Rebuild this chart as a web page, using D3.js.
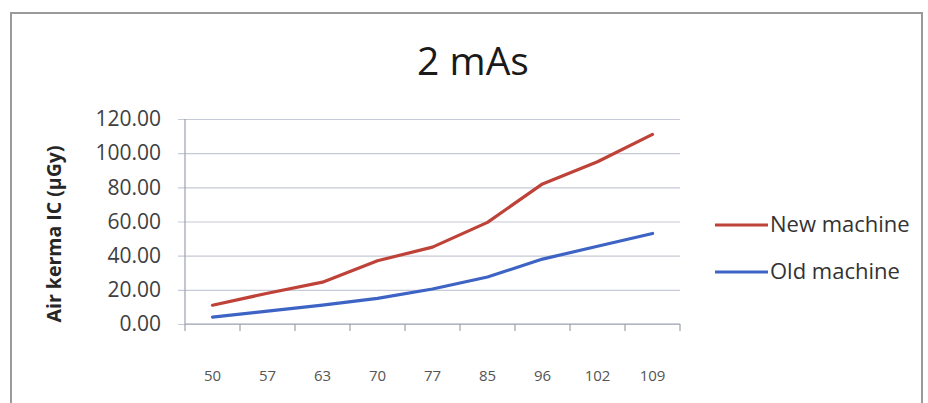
<!DOCTYPE html>
<html>
<head>
<meta charset="utf-8">
<script src="https://cdn.jsdelivr.net/npm/d3@7"></script>
<style>
  html, body { margin: 0; padding: 0; background: #fff; }
  svg { display: block; }
</style>
</head>
<body>
<svg id="chart" width="928" height="403"></svg>
<script>
// Tube voltage categories (kV) and measured air kerma at 2 mAs
const categories = ["50", "57", "63", "70", "77", "85", "96", "102", "109"];
const newMachine = [11, 18, 24.5, 37, 45, 59.5, 82, 95, 111];
const oldMachine = [4, 7.5, 11, 15, 20.5, 27.5, 38, 45.5, 53];
const yTicks = [0, 20, 40, 60, 80, 100, 120];
const seriesNames = ["New machine", "Old machine"];
const seriesColors = ["#bf4238", "#3d63c4"];

const svg = d3.select("#chart");
const font = "'Open Sans', 'Noto Sans', sans-serif";

// Outer chart frame
svg.append("path")
  .attr("d", "M11,403 V13 H922 V403")
  .attr("fill", "none")
  .attr("stroke", "#9a9a9a")
  .attr("stroke-width", 2);

// Title
svg.append("text")
  .attr("x", 473).attr("y", 75)
  .attr("text-anchor", "middle")
  .attr("font-family", font)
  .attr("font-size", 39)
  .attr("fill", "#1a1a1a")
  .text("2 mAs");

const plot = { left: 185, right: 680, top: 119, bottom: 324 };

const x = d3.scaleBand().domain(categories).range([plot.left, plot.right]);
const y = d3.scaleLinear().domain([0, 120]).range([plot.bottom, plot.top]);

// Horizontal gridlines with small outward ticks on the value axis
const yAxis = d3.axisLeft(y)
  .tickValues(yTicks)
  .tickSize(-(plot.right - plot.left))
  .tickFormat(d => d.toFixed(2));
const gy = svg.append("g")
  .attr("transform", `translate(${plot.left},0)`)
  .call(yAxis);
gy.select(".domain").remove();
gy.selectAll(".tick line")
  .attr("x1", -7)
  .attr("stroke", "#c6cad6")
  .attr("stroke-width", 1.2);
gy.selectAll(".tick text")
  .attr("x", -24)
  .attr("font-family", font)
  .attr("font-size", 21)
  .attr("fill", "#404040");

// Value axis line
svg.append("line")
  .attr("x1", plot.left).attr("x2", plot.left)
  .attr("y1", plot.top).attr("y2", plot.bottom)
  .attr("stroke", "#9da1ad").attr("stroke-width", 1.2);

// Category axis: baseline, boundary ticks and labels
const gx = svg.append("g")
  .attr("transform", `translate(0,${plot.bottom})`)
  .call(d3.axisBottom(x).tickSize(0).tickPadding(0));
gx.select(".domain")
  .attr("d", `M${plot.left},0H${plot.right}`)
  .attr("stroke", "#9da1ad").attr("stroke-width", 1.2);
gx.selectAll(".tick text")
  .attr("y", 46)
  .attr("font-family", font)
  .attr("font-size", 15)
  .attr("fill", "#555");
const bounds = categories.map(c => x(c)).concat([plot.right]);
gx.selectAll(".bound")
  .data(bounds)
  .enter().append("line")
  .attr("class", "bound")
  .attr("x1", d => d).attr("x2", d => d)
  .attr("y1", 0).attr("y2", 7)
  .attr("stroke", "#9da1ad").attr("stroke-width", 1.2);

// Value axis title
svg.append("text")
  .attr("transform", "translate(61,234) rotate(-90)")
  .attr("text-anchor", "middle")
  .attr("font-family", font)
  .attr("font-weight", "bold")
  .attr("font-size", 19.5)
  .attr("fill", "#262626")
  .text("Air kerma IC (\u00b5Gy)");

// Series lines
const line = d3.line()
  .x((d, i) => x(categories[i]) + x.bandwidth() / 2)
  .y(d => y(d));
[newMachine, oldMachine].forEach((vals, i) => {
  svg.append("path")
    .datum(vals)
    .attr("d", line)
    .attr("fill", "none")
    .attr("stroke", seriesColors[i])
    .attr("stroke-width", 3.2)
    .attr("stroke-linejoin", "round")
    .attr("stroke-linecap", "round");
});

// Legend
const legend = svg.append("g");
seriesNames.forEach((name, i) => {
  const ly = 225 + i * 47;
  legend.append("line")
    .attr("x1", 715).attr("x2", 768)
    .attr("y1", ly).attr("y2", ly)
    .attr("stroke", seriesColors[i])
    .attr("stroke-width", 3.2);
  legend.append("text")
    .attr("x", 770).attr("y", ly + 7)
    .attr("font-family", font)
    .attr("font-size", 22)
    .attr("fill", "#333")
    .text(name);
});
</script>
</body>
</html>
